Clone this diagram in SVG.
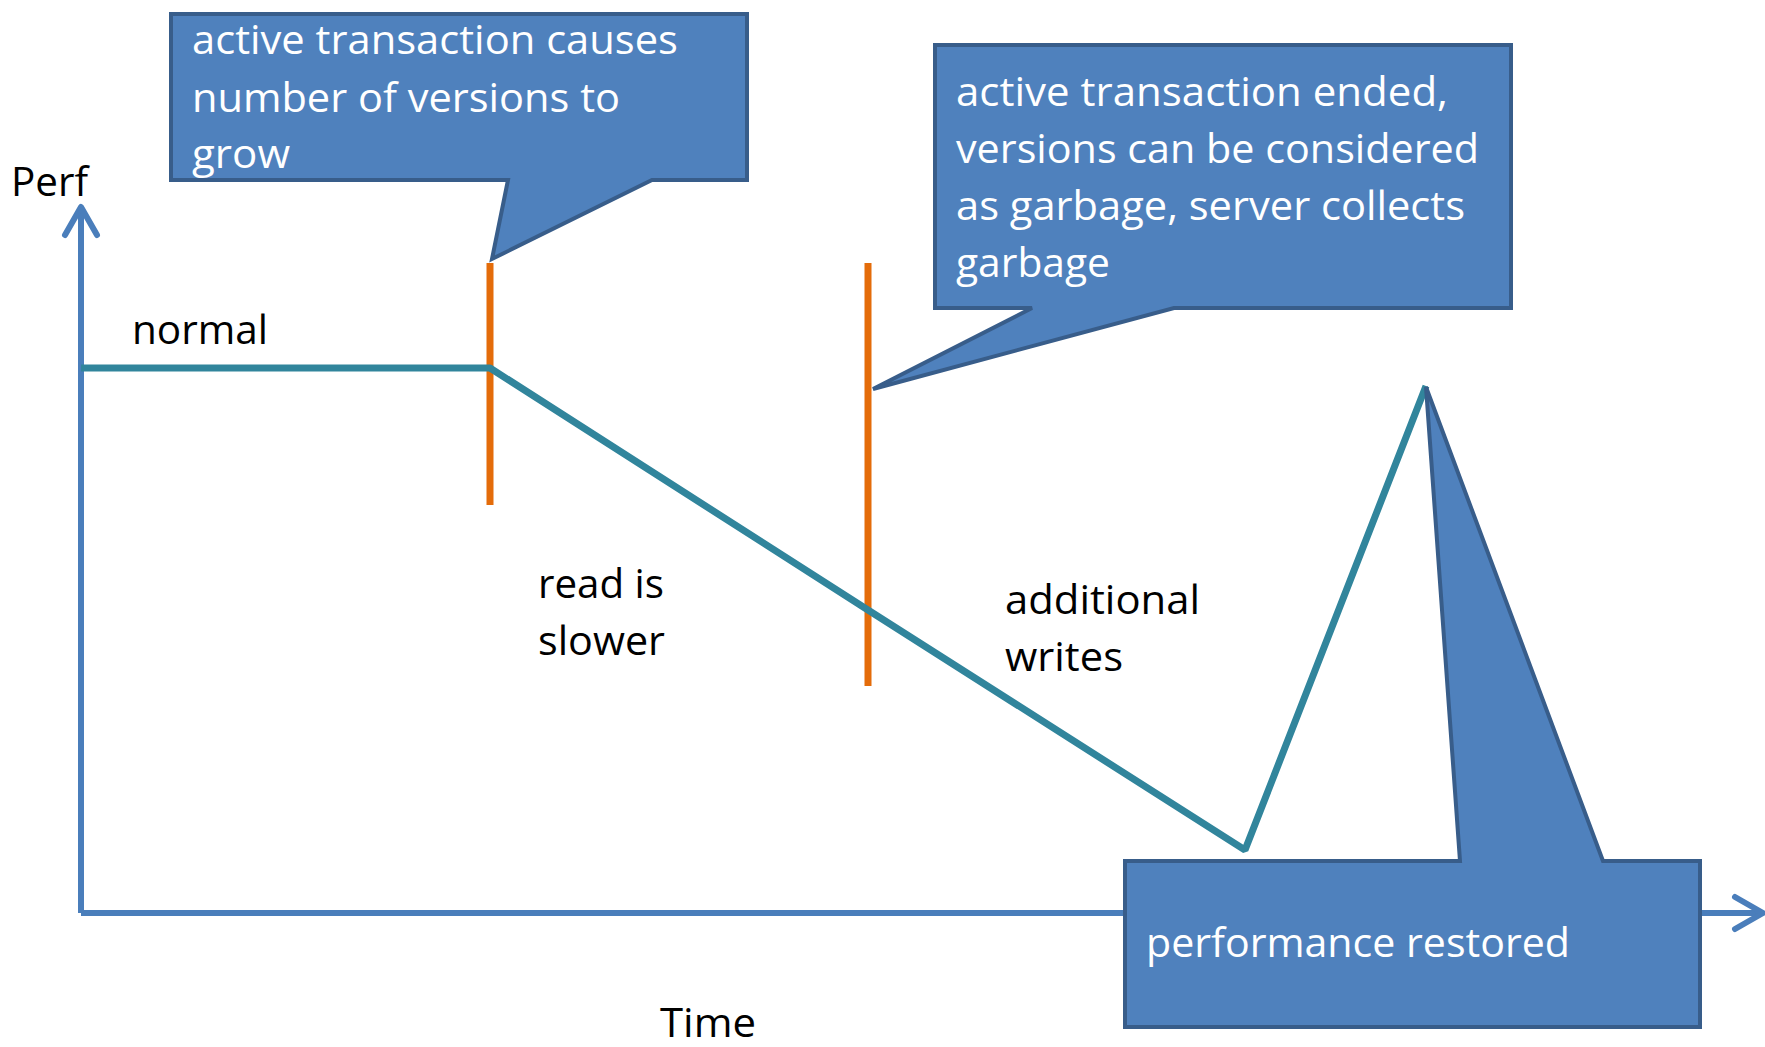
<svg xmlns="http://www.w3.org/2000/svg" width="1765" height="1047" viewBox="0 0 1765 1047">
<style>
  .t { font-family: "Open Sans", "Liberation Sans", sans-serif; font-size: 41px; fill: #000; }
  .w { fill: #fff; }
  .callout { fill: #4F81BD; stroke: #385D8A; stroke-width: 4; stroke-linejoin: miter; }
  .axis { fill: none; stroke: #4A7EBB; stroke-width: 6; }
  .perf { fill: none; stroke: #31859C; stroke-width: 7; stroke-linejoin: bevel; }
  .mark { stroke: #E46C0A; stroke-width: 7; }
</style>
<defs>
  <marker id="chev" markerUnits="userSpaceOnUse" viewBox="-34 -22 40 44" refX="0" refY="0" markerWidth="40" markerHeight="44" orient="auto" overflow="visible">
    <path d="M-28,-16 L0,0 L-28,16" fill="none" stroke="#4A7EBB" stroke-width="6" stroke-linecap="round" stroke-linejoin="round"/>
  </marker>
</defs>
<rect width="1765" height="1047" fill="#fff"/>
<g id="connectors">
  <line id="y-axis" class="axis" x1="81" y1="913" x2="81" y2="207" marker-end="url(#chev)"/>
  <line id="x-axis" class="axis" x1="81" y1="913" x2="1763" y2="913" marker-end="url(#chev)"/>
  <line class="mark" x1="490" y1="263" x2="490" y2="505"/>
  <line class="mark" x1="868" y1="263" x2="868" y2="686"/>
  <polyline class="perf" points="81,368 490,368 868,610 1245,850 1426,386"/>
</g>
<g id="label-perf"><text class="t" x="11" y="196" textLength="77" lengthAdjust="spacingAndGlyphs">Perf</text></g>
<g id="label-time"><text class="t" x="660" y="1037" textLength="96" lengthAdjust="spacingAndGlyphs">Time</text></g>
<g id="label-normal"><text class="t" x="132" y="344" textLength="136" lengthAdjust="spacingAndGlyphs">normal</text></g>
<g id="label-read">
  <text class="t" x="538" y="598" textLength="126" lengthAdjust="spacingAndGlyphs">read is</text>
  <text class="t" x="538" y="655" textLength="127" lengthAdjust="spacingAndGlyphs">slower</text>
</g>
<g id="label-writes">
  <text class="t" x="1005" y="614" textLength="195" lengthAdjust="spacingAndGlyphs">additional</text>
  <text class="t" x="1005" y="671" textLength="118" lengthAdjust="spacingAndGlyphs">writes</text>
</g>
<g id="callout-grow">
  <path class="callout" d="M171,14 H747 V180 H652 L492,259 L508,180 H171 Z"/>
  <text class="t w" x="192" y="54" textLength="486" lengthAdjust="spacingAndGlyphs">active transaction causes</text>
  <text class="t w" x="192" y="112" textLength="428" lengthAdjust="spacingAndGlyphs">number of versions to</text>
  <text class="t w" x="192" y="168" textLength="98" lengthAdjust="spacingAndGlyphs">grow</text>
</g>
<g id="callout-ended">
  <path class="callout" d="M935,45 H1511 V308 H1174 L873,389 L1032,308 H935 Z"/>
  <text class="t w" x="956" y="106" textLength="492" lengthAdjust="spacingAndGlyphs">active transaction ended,</text>
  <text class="t w" x="956" y="163" textLength="523" lengthAdjust="spacingAndGlyphs">versions can be considered</text>
  <text class="t w" x="956" y="220" textLength="509" lengthAdjust="spacingAndGlyphs">as garbage, server collects</text>
  <text class="t w" x="956" y="277" textLength="154" lengthAdjust="spacingAndGlyphs">garbage</text>
</g>
<g id="callout-restored">
  <path class="callout" d="M1125,861 H1460 L1426,387 L1603,861 H1700 V1027 H1125 Z"/>
  <text class="t w" x="1146" y="957" textLength="424" lengthAdjust="spacingAndGlyphs">performance restored</text>
</g>
</svg>
